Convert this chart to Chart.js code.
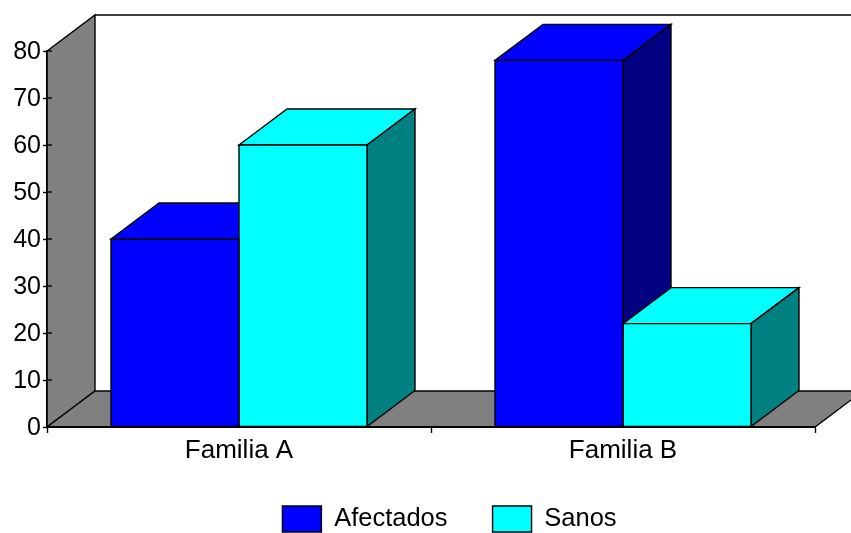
<!DOCTYPE html>
<html>
<head>
<meta charset="utf-8">
<title>Familias</title>
<script src="https://cdn.jsdelivr.net/npm/chart.js@4"></script>
<style>
  html, body { margin: 0; background: #fff; overflow: hidden; }
  canvas { display: block; }
</style>
</head>
<body>
<canvas id="chart" width="851" height="533"></canvas>
<script>
const categories = ["Familia A", "Familia B"];
const afectados = [40, 78];
const sanos = [60, 22];

const DEPTH_X = 48;
const DEPTH_Y = 36;
const EDGE = 1.4;

Chart.defaults.font.family = "'Liberation Sans', Arial, sans-serif";
Chart.defaults.font.size = 26;
Chart.defaults.color = "#000";

function quad(ctx, pts, fill) {
  ctx.beginPath();
  pts.forEach(([x, y], i) => (i ? ctx.lineTo(x, y) : ctx.moveTo(x, y)));
  ctx.closePath();
  if (fill) {
    ctx.fillStyle = fill;
    ctx.fill();
  }
  ctx.stroke();
}

// left wall, back wall and floor behind the axes
const roomPlugin = {
  id: "room",
  beforeDraw(chart) {
    const { ctx, chartArea: a } = chart;
    ctx.save();
    ctx.strokeStyle = "#000";
    ctx.lineWidth = EDGE;
    quad(ctx, [[a.left, a.bottom], [a.left, a.top], [a.left + DEPTH_X, a.top - DEPTH_Y], [a.left + DEPTH_X, a.bottom - DEPTH_Y]], "#808080");
    quad(ctx, [[a.left, a.bottom], [a.left + DEPTH_X, a.bottom - DEPTH_Y], [a.right + DEPTH_X, a.bottom - DEPTH_Y], [a.right, a.bottom]], "#808080");
    ctx.beginPath();
    ctx.moveTo(a.left + DEPTH_X, a.top - DEPTH_Y);
    ctx.lineTo(a.right + DEPTH_X, a.top - DEPTH_Y);
    ctx.stroke();

    // y ticks carry on a few pixels onto the wall
    const yScale = chart.scales.y;
    yScale.ticks.forEach((t) => {
      const py = yScale.getPixelForValue(t.value);
      ctx.beginPath();
      ctx.moveTo(a.left, py);
      ctx.lineTo(a.left + 5, py);
      ctx.stroke();
    });
    ctx.restore();
  },
  // top and side of each bar, the front comes from the bar element
  beforeDatasetsDraw(chart) {
    const { ctx } = chart;
    ctx.save();
    ctx.strokeStyle = "#000";
    ctx.lineWidth = EDGE;
    chart.data.datasets.forEach((ds, i) => {
      chart.getDatasetMeta(i).data.forEach((bar) => {
        const l = bar.x - bar.width / 2;
        const r = bar.x + bar.width / 2;
        quad(ctx, [[l, bar.y], [l + DEPTH_X, bar.y - DEPTH_Y], [r + DEPTH_X, bar.y - DEPTH_Y], [r, bar.y]], ds.backgroundColor);
        quad(ctx, [[r, bar.y], [r + DEPTH_X, bar.y - DEPTH_Y], [r + DEPTH_X, bar.base - DEPTH_Y], [r, bar.base]], ds.sideColor);
      });
    });
    ctx.restore();
  },
  // outline centred on the bar edges so neighbours share one line
  afterDatasetsDraw(chart) {
    const { ctx } = chart;
    ctx.save();
    ctx.strokeStyle = "#000";
    ctx.lineWidth = EDGE;
    chart.data.datasets.forEach((ds, i) => {
      chart.getDatasetMeta(i).data.forEach((bar) => {
        const l = bar.x - bar.width / 2;
        const r = bar.x + bar.width / 2;
        quad(ctx, [[l, bar.y], [r, bar.y], [r, bar.base], [l, bar.base]]);
      });
    });
    ctx.restore();
  },
  afterLayout(chart) {
    // legend sits right of the page centre
    chart.legend.left += 42;
    chart.legend.right += 42;
    chart.legend.top += 1;
    chart.legend.bottom += 1;
  },
};

new Chart(document.getElementById("chart"), {
  type: "bar",
  data: {
    labels: categories,
    datasets: [
      { label: "Afectados", data: afectados, backgroundColor: "#0000ff", sideColor: "#000080", borderWidth: 0 },
      { label: "Sanos", data: sanos, backgroundColor: "#00ffff", sideColor: "#008080", borderWidth: 0 },
    ],
  },
  options: {
    responsive: false,
    animation: false,
    events: [],
    datasets: { bar: { categoryPercentage: 2 / 3, barPercentage: 1 } },
    layout: { padding: { top: 51, right: 36, bottom: -8, left: 0 } },
    plugins: {
      tooltip: { enabled: false },
      legend: {
        position: "bottom",
        labels: {
          boxWidth: 39,
          boxHeight: 26,
          padding: 45,
          font: { size: 25.5 },
          generateLabels(chart) {
            return Chart.defaults.plugins.legend.labels.generateLabels(chart).map((item) => ({
              ...item,
              strokeStyle: "#000",
              lineWidth: EDGE,
            }));
          },
        },
      },
    },
    scales: {
      x: {
        grid: { offset: true, drawOnChartArea: false, tickLength: 6, tickColor: "#000", tickWidth: EDGE },
        border: { color: "#000", width: 2, z: 1 },
        ticks: { padding: 2, maxRotation: 0 },
        afterFit(scale) { scale.height = 33; },
      },
      y: {
        min: 0,
        max: 80,
        grid: { drawOnChartArea: false, tickLength: 4, tickColor: "#000", tickWidth: EDGE },
        border: { color: "#000", width: EDGE },
        ticks: { stepSize: 10, padding: 2, labelOffset: 1, font: { size: 25 } },
        afterFit(scale) { scale.width = 47; },
      },
    },
  },
  plugins: [roomPlugin],
});
</script>
</body>
</html>
